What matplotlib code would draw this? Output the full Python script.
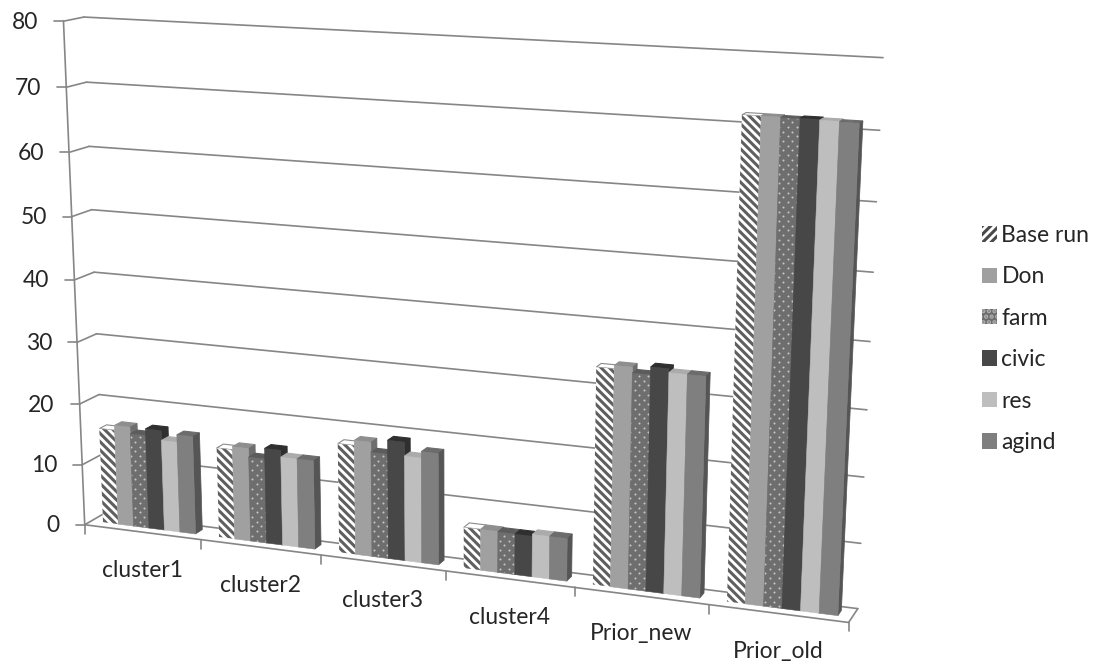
import numpy as np
import matplotlib
matplotlib.use("Agg")
import matplotlib.pyplot as plt
from matplotlib.patches import Polygon, Patch

plt.rcParams["font.family"] = ["Lato", "DejaVu Sans"]
plt.rcParams["hatch.linewidth"] = 2.2

categories = ["cluster1", "cluster2", "cluster3", "cluster4", "Prior_new", "Prior_old"]
series = ["Base run", "Don", "farm", "civic", "res", "agind"]
base_run = [15.6, 14.6, 17.5, 6.5, 33.5, 71.6]
don = [16.4, 15.1, 18.3, 6.5, 34.0, 71.6]
farm = [15.3, 13.7, 16.7, 6.4, 33.1, 71.5]
civic = [16.4, 15.4, 18.9, 6.4, 34.3, 71.6]
res = [14.8, 14.3, 16.7, 6.7, 33.7, 71.5]
agind = [16.0, 14.3, 17.7, 6.7, 33.7, 71.4]
values = [base_run, don, farm, civic, res, agind]
y_ticks = [0, 10, 20, 30, 40, 50, 60, 70, 80]

face = ["#ffffff", "#a0a0a0", "#6e6e6e", "#474747", "#bebebe", "#7f7f7f"]
top = ["#ffffff", "#8e8e8e", "#5c5c5c", "#2f2f2f", "#ababab", "#6c6c6c"]
side = ["#bbbbbb", "#6e6e6e", "#4c4c4c", "#2f2f2f", "#808080", "#555555"]
line_col = "#868686"
text_col = "#262626"

# camera of the 3d chart: (category, value, depth) -> pixel, fitted on the box corners
refs = [((0, 0, 0), (86, 524)), ((1, 0, 0), (201, 538)), ((3, 0, 0), (446, 572)),
        ((5, 0, 0), (709, 606)), ((6, 0, 0), (849, 624)), ((0, 80, 0), (62, 22)),
        ((0, 70, 0), (65, 88)), ((0, 10, 0), (83, 462)), ((0, 0, 1), (103, 517)),
        ((6, 0, 1), (857, 607)), ((0, 80, 1), (85, 17)), ((6, 80, 1), (883, 58)),
        ((6, 70, 1), (880, 130)), ((0, 70, 1), (88, 81)), ((0, 10, 1), (100, 455)),
        ((6, 10, 1), (861, 542))]
rows = []
for (u, v, d), (px, py) in refs:
    X = [u / 6, v / 80, d, 1]
    rows.append(X + [0, 0, 0, 0] + [-px / 1000 * c for c in X])
    rows.append([0, 0, 0, 0] + X + [-py / 1000 * c for c in X])
P = np.linalg.svd(np.array(rows))[2][-1].reshape(3, 4)


def proj(u, v, d):
    x, y, w = P @ np.array([u / 6, v / 80, d, 1])
    return (x / w * 1000, y / w * 1000)


def seg(ax, a, b):
    ax.plot([a[0], b[0]], [a[1], b[1]], color=line_col, lw=1.2, zorder=1, solid_capstyle="round")


def dots(ax, patch, corners):
    # dotted fill of the farm bars, small staggered dots clipped to the bar
    xs = [c[0] for c in corners]
    ys = [c[1] for c in corners]
    gx, gy = np.meshgrid(np.arange(0, 1100, 9), np.arange(0, 670, 4.7))
    gx = gx + 4.5 * (np.arange(gx.shape[0]) % 2)[:, None]
    keep = (gx > min(xs) - 1) & (gx < max(xs) + 1) & (gy > min(ys) - 1) & (gy < max(ys) + 1)
    pts = ax.scatter(gx[keep], gy[keep], s=2.2, color="#c4c4c4", linewidths=0, zorder=2)
    pts.set_clip_path(patch)


fig = plt.figure(figsize=(10.99, 6.65), dpi=100, facecolor="white")
ax = fig.add_axes([0, 0, 1, 1])
ax.set_xlim(0, 1099)
ax.set_ylim(665, 0)
ax.axis("off")

# walls
n = len(categories)
for t in y_ticks:
    a = proj(0, t, 0)
    seg(ax, (a[0] - 9, a[1]), a)
    seg(ax, a, proj(0, t, 1))
    seg(ax, proj(0, t, 1), proj(n, t, 1))
    ax.text(a[0] - 25, a[1] + 1, str(t), ha="right", va="center", fontsize=16.5, color=text_col)
seg(ax, proj(0, 0, 0), proj(0, 80, 0))
seg(ax, proj(0, 0, 0), proj(n, 0, 0))
seg(ax, proj(n, 0, 0), proj(n, 0, 1))
for i in range(n + 1):
    a = proj(i, 0, 0)
    seg(ax, a, (a[0], a[1] + 9))
for i, c in enumerate(categories):
    a = proj(i + 0.5, 0, 0)
    ax.text(a[0], a[1] + 38, c, ha="center", va="center", fontsize=16.5, color=text_col)

# bars
d0, d1 = 0.36, 0.74
margin = 0.1
w = (1 - 2 * margin) / len(series)
for i in range(n):
    for s in range(len(series)):
        v = values[s][i]
        u0 = i + margin + s * w
        u1 = u0 + w
        ax.add_patch(Polygon([proj(u0, v, d0), proj(u1, v, d0), proj(u1, v, d1), proj(u0, v, d1)],
                             facecolor=top[s], edgecolor="#8a8a8a" if s == 0 else top[s], lw=0.8, zorder=2))
        ax.add_patch(Polygon([proj(u1, 0, d0), proj(u1, 0, d1), proj(u1, v, d1), proj(u1, v, d0)],
                             facecolor=side[s], edgecolor=side[s], lw=0.5, zorder=2))
        front = [proj(u0, 0, d0), proj(u1, 0, d0), proj(u1, v, d0), proj(u0, v, d0)]
        if s == 0:
            ax.add_patch(Polygon(front, facecolor="white", edgecolor="#5f5f5f", hatch="\\\\\\\\", lw=0, zorder=2))
        else:
            bar = Polygon(front, facecolor=face[s], edgecolor=face[s], lw=0.4, zorder=2)
            ax.add_patch(bar)
            if s == 2:
                dots(ax, bar, front)

handles = []
for s, name in enumerate(series):
    if s == 0:
        handles.append(Patch(facecolor="white", edgecolor="#4a4a4a", hatch="////", lw=0, label=name))
    elif s == 2:
        handles.append(Patch(facecolor=face[s], edgecolor="#b0b0b0", hatch="...", lw=0, label=name))
    else:
        handles.append(Patch(facecolor=face[s], edgecolor=face[s], lw=0, label=name))
ax.legend(handles=handles, loc="upper left", bbox_to_anchor=(982, 225), bbox_transform=ax.transData,
          frameon=False, fontsize=16.5, handlelength=0.65, handleheight=0.65, handletextpad=0.2,
          labelspacing=0.89, borderpad=0, borderaxespad=0, labelcolor=text_col)

fig.savefig("out.png", dpi=100, facecolor="white")
